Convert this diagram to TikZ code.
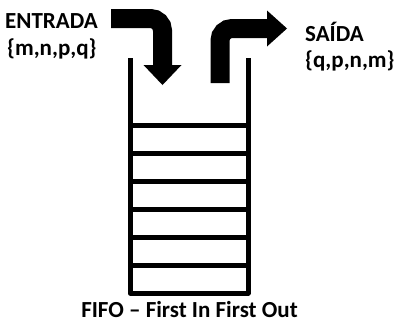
\documentclass[tikz,border=0pt]{standalone}
\usepackage{fontspec}
\setmainfont{Carlito}
\begin{document}
\begin{tikzpicture}[x=1pt, y=-1pt,
    pared/.style={line width=5pt},
    flecha/.style={line width=19pt, rounded corners=12pt},
    texto/.style={font=\bfseries\fontsize{23}{27}\selectfont, inner sep=0pt}]
    \useasboundingbox (0,0) rectangle (401,327);

    % Pila
    \draw[pared, line join=round] (130,58) -- (130,293) -- (248,293) -- (248,58);
    % Divisiones
    \foreach \y in {125,153,...,265}
        \draw[pared] (130,\y) -- (248,\y);

    % Flecha de entrada
    \coordinate (e0) at (111,18.5);
    \coordinate (e1) at (162.5,18.5);
    \coordinate (e2) at (162.5,66);
    \draw[flecha] (e0) -- (e1) -- (e2);
    \fill (143.5,65) -- (181.5,65) -- (162.5,85) -- cycle;

    % Flecha de salida
    \coordinate (s0) at (220,83);
    \coordinate (s1) at (220,28.5);
    \coordinate (s2) at (268,28.5);
    \draw[flecha] (s0) -- (s1) -- (s2);
    \fill (267,10.5) -- (287,28.5) -- (267,46.5) -- cycle;

    % Textos
    \node[texto, anchor=base west] (entrada) at (5,28) {ENTRADA};
    \node[texto, anchor=base west] (conjE) at (7,55) {\{m,n,p,q\}};
    \node[texto, anchor=base west] (saida) at (305,41) {SAÍDA};
    \node[texto, anchor=base west] (conjS) at (305,67) {\{q,p,n,m\}};
    \node[texto, anchor=base] (fifo) at (189.5,317) {FIFO – First In First Out};
\end{tikzpicture}
\end{document}
